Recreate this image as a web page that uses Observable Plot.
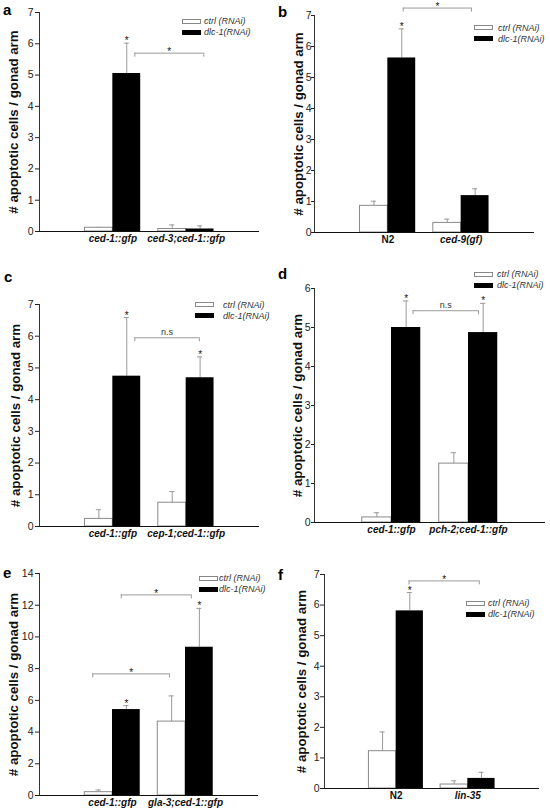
<!DOCTYPE html>
<html><head><meta charset="utf-8">
<script src="https://cdn.jsdelivr.net/npm/d3@7"></script>
<script src="https://cdn.jsdelivr.net/npm/@observablehq/plot@0.6"></script>
<style>
body{margin:0;background:#fff;}
#fig{position:relative;width:550px;height:812px;overflow:hidden;font-family:"Liberation Sans",Arial,sans-serif;}
.letter{position:absolute;font-weight:bold;font-size:15px;line-height:1;color:#000;}
.legend{position:absolute;font-size:9px;font-style:italic;color:#333;}
.legend .row{display:flex;align-items:center;height:11px;white-space:nowrap;}
.sw{width:19px;height:5px;box-sizing:border-box;}
</style></head><body><div id="fig"></div>
<script>
// ---------- data ----------
const seriesNames = ["ctrl (RNAi)", "dlc-1(RNAi)"];
const yLabel = "# apoptotic cells / gonad arm";
const uprightLabels = ["N2"];

const catsA = ["ced-1::gfp", "ced-3;ced-1::gfp"];
const ctrlA = [0.12, 0.08], ctrlSdA = [0.01, 0.13];
const dlcA = [5.05, 0.08], dlcSdA = [0.97, 0.10];
const starsA = [true, false];
const bracketsA = [{x1: 1.30, x2: 2.24, y: 5.7, label: "*"}];

const catsB = ["N2", "ced-9(gf)"];
const ctrlB = [0.86, 0.31], ctrlSdB = [0.15, 0.12];
const dlcB = [5.63, 1.19], dlcSdB = [0.94, 0.22];
const starsB = [true, false];
const bracketsB = [{x1: 1.21, x2: 2.14, y: 7.24, label: "*"}];

const catsC = ["ced-1::gfp", "cep-1;ced-1::gfp"];
const ctrlC = [0.24, 0.75], ctrlSdC = [0.29, 0.35];
const dlcC = [4.74, 4.69], dlcSdC = [1.85, 0.66];
const starsC = [true, true];
const bracketsC = [{x1: 1.30, x2: 2.18, y: 5.95, label: "n.s"}];

const catsD = ["ced-1::gfp", "pch-2;ced-1::gfp"];
const ctrlD = [0.13, 1.51], ctrlSdD = [0.12, 0.28];
const dlcD = [5.0, 4.87], dlcSdD = [0.68, 0.75];
const starsD = [true, true];
const bracketsD = [{x1: 1.28, x2: 2.13, y: 5.43, label: "n.s"}];

const catsE = ["ced-1::gfp", "gla-3;ced-1::gfp"];
const ctrlE = [0.21, 4.66], ctrlSdE = [0.14, 1.62];
const dlcE = [5.42, 9.35], dlcSdE = [0.25, 2.45];
const starsE = [true, true];
const bracketsE = [{x1: 1.12, x2: 2.08, y: 12.65, label: "*"}, {x1: 0.73, x2: 1.78, y: 7.67, label: "*"}];

const catsF = ["N2", "lin-35"];
const ctrlF = [1.22, 0.13], ctrlSdF = [0.63, 0.12];
const dlcF = [5.81, 0.33], dlcSdF = [0.60, 0.20];
const starsF = [true, false];
const bracketsF = [{x1: 1.18, x2: 2.16, y: 6.79, label: "*"}];

// ---------- layout ----------
const panels = [
  {id: "a", cats: catsA, ctrl: ctrlA, ctrlSd: ctrlSdA, dlc: dlcA, dlcSd: dlcSdA, stars: starsA, brackets: bracketsA,
   left: 0, axisX0: 39, axisX1: 259, yTop: 12, yBot: 231, ymax: 7, step: 1, labelOff: 26, tickSize: 4, tickPad: 2, letter: [3, 2.3], legend: [182, 15.5, 3]},
  {id: "b", cats: catsB, ctrl: ctrlB, ctrlSd: ctrlSdB, dlc: dlcB, dlcSd: dlcSdB, stars: starsB, brackets: bracketsB,
   left: 275, axisX0: 314, axisX1: 534, yTop: 15, yBot: 232, ymax: 7, step: 1, labelOff: 16, tickSize: 3, tickPad: 0, letter: [278, 4], legend: [474, 22, 5]},
  {id: "c", cats: catsC, ctrl: ctrlC, ctrlSd: ctrlSdC, dlc: dlcC, dlcSd: dlcSdC, stars: starsC, brackets: bracketsC,
   left: 0, axisX0: 39, axisX1: 259, yTop: 304, yBot: 526, ymax: 7, step: 1, labelOff: 24, tickSize: 4, tickPad: 2, letter: [4, 269.3], legend: [195, 299, 9]},
  {id: "d", cats: catsD, ctrl: ctrlD, ctrlSd: ctrlSdD, dlc: dlcD, dlcSd: dlcSdD, stars: starsD, brackets: bracketsD,
   left: 275, axisX0: 314, axisX1: 545, yTop: 288, yBot: 522, ymax: 6, step: 1, labelOff: 17, tickSize: 3, tickPad: 1, letter: [278, 266.3], legend: [474, 268.5, 4]},
  {id: "e", cats: catsE, ctrl: ctrlE, ctrlSd: ctrlSdE, dlc: dlcE, dlcSd: dlcSdE, stars: starsE, brackets: bracketsE,
   left: 0, axisX0: 39, axisX1: 258, yTop: 573, yBot: 795, ymax: 14, step: 2, labelOff: 26, tickSize: 4, tickPad: 2, letter: [3, 565.3], legend: [199, 572.5, 1]},
  {id: "f", cats: catsF, ctrl: ctrlF, ctrlSd: ctrlSdF, dlc: dlcF, dlcSd: dlcSdF, stars: starsF, brackets: bracketsF,
   left: 275, axisX0: 324, axisX1: 539, yTop: 574, yBot: 788, ymax: 7, step: 1, labelOff: 23, tickSize: 4, tickPad: 1, letter: [278, 567.3], legend: [466, 597.5, 3]}
];

const fig = document.getElementById("fig");
const FONT = "Liberation Sans, Arial, sans-serif";
const HALF = 0.38;     // bar width in x units
const CAP = 0.035;     // error cap half-width
const ERR = "#9a9a9a";

for (const p of panels) {
  const svgTop = Math.max(0, p.yTop - 30);
  const svgBot = p.yBot + 24;
  const height = svgBot - svgTop;
  const width = 275;
  const bars = [];
  p.cats.forEach((c, i) => {
    const g = i + 1;
    bars.push({cat: c, series: "ctrl", x1: g - HALF, x2: g, cx: g - HALF / 2, value: p.ctrl[i], err: p.ctrl[i] + p.ctrlSd[i], star: false});
    bars.push({cat: c, series: "dlc", x1: g, x2: g + HALF, cx: g + HALF / 2, value: p.dlc[i], err: p.dlc[i] + p.dlcSd[i], star: p.stars[i]});
  });
  const catData = p.cats.map((c, i) => ({c, g: i + 1}));
  const tick = 4 * p.ymax / (p.yBot - p.yTop);

  const svg = Plot.plot({
    width, height,
    marginLeft: p.axisX0 - p.left,
    marginRight: p.left + width - p.axisX1,
    marginTop: p.yTop - svgTop,
    marginBottom: svgBot - p.yBot,
    x: {domain: [0, 3], axis: null},
    y: {domain: [0, p.ymax], axis: null},
    style: {background: "transparent", overflow: "visible", fontFamily: FONT},
    marks: [
      // error bars
      Plot.ruleX(bars, {x: "cx", y1: "value", y2: "err", stroke: ERR, strokeWidth: 1}),
      Plot.ruleY(bars, {y: "err", x1: d => d.cx - CAP, x2: d => d.cx + CAP, stroke: ERR, strokeWidth: 1}),
      // bars
      Plot.rect(bars.filter(d => d.series === "ctrl"), {x1: "x1", x2: "x2", y1: 0, y2: "value", fill: "white", stroke: "#8a8a8a", strokeWidth: 1}),
      Plot.rect(bars.filter(d => d.series === "dlc"), {x1: "x1", x2: "x2", y1: 0, y2: "value", fill: "black"}),
      // axes
      Plot.ruleX([0], {stroke: "#333", strokeWidth: 1}),
      Plot.ruleY([0], {stroke: "#111", strokeWidth: 1}),
      Plot.axisY({ticks: d3.range(0, p.ymax + 0.001, p.step), tickSize: p.tickSize, tickPadding: p.tickPad, fontSize: 10.5, label: null, color: "#222", tickFormat: d => String(d)}),
      Plot.text([yLabel], {frameAnchor: "left", textAnchor: "middle", lineAnchor: "middle", rotate: -90, dx: -p.labelOff, dy: 0, fontSize: 13.3, fontWeight: "bold", fill: "#111"}),
      // category labels
      Plot.text(catData.filter(d => !uprightLabels.includes(d.c)), {x: "g", text: "c", frameAnchor: "bottom", dy: 10.5, fontSize: 10, fontWeight: "bold", fontStyle: "italic", fill: "#111"}),
      Plot.text(catData.filter(d => uprightLabels.includes(d.c)), {x: "g", text: "c", frameAnchor: "bottom", dy: 10.5, fontSize: 10, fontWeight: "bold", fill: "#111"}),
      // significance stars over bars
      Plot.text(bars.filter(d => d.star), {x: "cx", y: "err", text: () => "*", lineAnchor: "bottom", dy: 1, fontSize: 10, fill: "#111"}),
      // brackets
      Plot.ruleY(p.brackets, {y: "y", x1: "x1", x2: "x2", stroke: ERR}),
      Plot.ruleX(p.brackets, {x: "x1", y1: "y", y2: d => d.y - tick, stroke: ERR}),
      Plot.ruleX(p.brackets, {x: "x2", y1: "y", y2: d => d.y - tick, stroke: ERR}),
      Plot.text(p.brackets.filter(d => d.label === "*"), {x: d => (d.x1 + d.x2) / 2, y: "y", text: "label", lineAnchor: "bottom", dy: 2, fontSize: 10, fill: "#111"}),
      Plot.text(p.brackets.filter(d => d.label !== "*"), {x: d => (d.x1 + d.x2) / 2, y: "y", text: "label", lineAnchor: "bottom", dy: -3, fontSize: 9, fill: "#333"})
    ]
  });
  svg.style.position = "absolute";
  svg.style.left = p.left + "px";
  svg.style.top = svgTop + "px";
  fig.appendChild(svg);

  // panel letter
  const L = document.createElement("div");
  L.className = "letter";
  L.textContent = p.id;
  L.style.left = p.letter[0] + "px";
  L.style.top = p.letter[1] + "px";
  fig.appendChild(L);

  // legend
  const lg = document.createElement("div");
  lg.className = "legend";
  lg.style.left = p.legend[0] + "px";
  lg.style.top = p.legend[1] + "px";
  seriesNames.forEach((name, i) => {
    const row = document.createElement("div");
    row.className = "row";
    const sw = document.createElement("div");
    sw.className = "sw";
    sw.style.marginRight = p.legend[2] + "px";
    if (i === 0) { sw.style.background = "#fff"; sw.style.border = "1px solid #888"; }
    else { sw.style.background = "#000"; }
    const t = document.createElement("span");
    t.textContent = name;
    row.appendChild(sw); row.appendChild(t);
    lg.appendChild(row);
  });
  fig.appendChild(lg);
}
</script>
</body></html>
